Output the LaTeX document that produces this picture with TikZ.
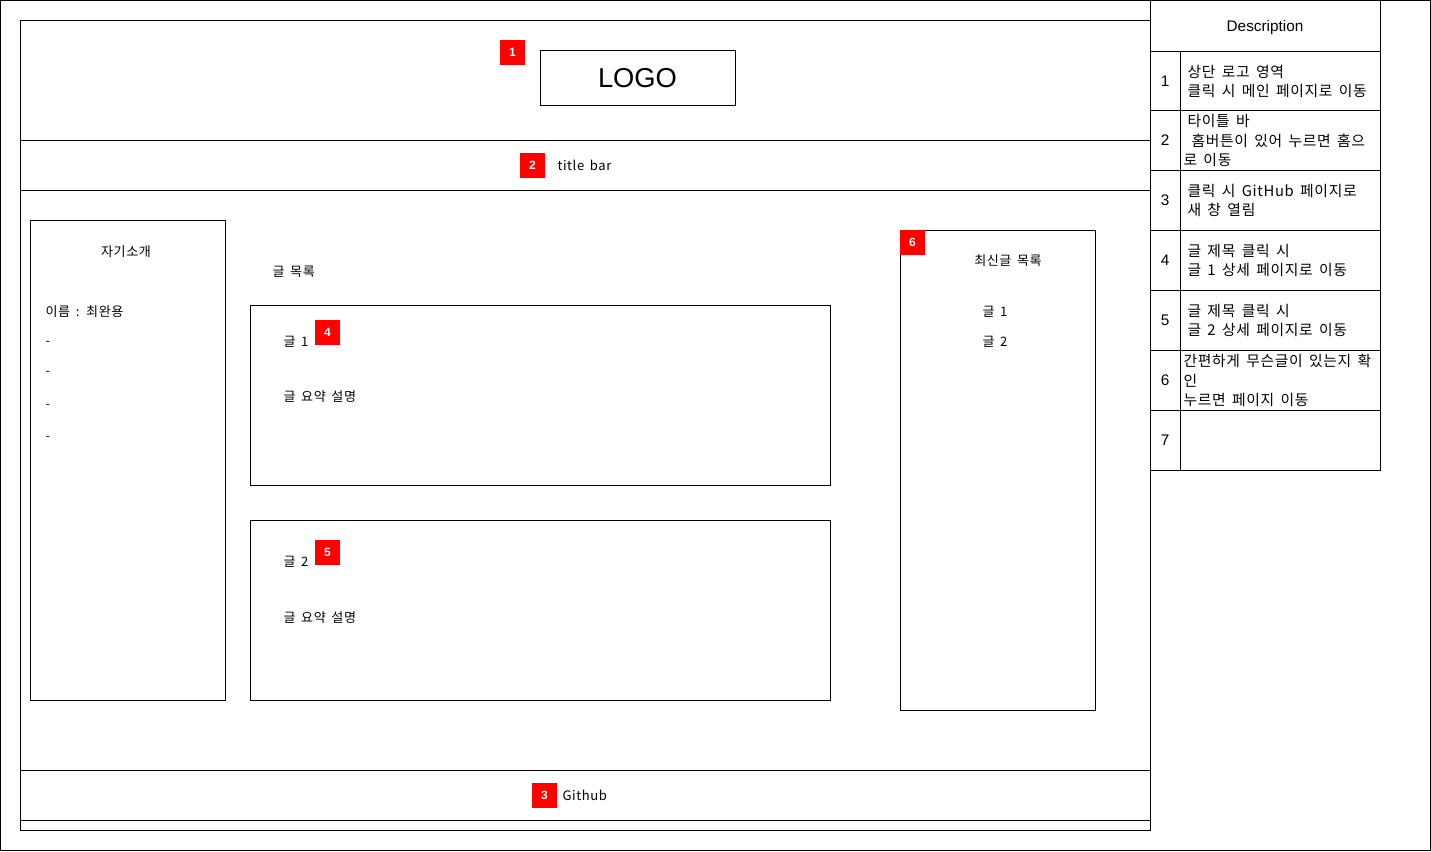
\documentclass[tikz,border=0pt]{standalone}
\usepackage{fontspec}
\setmainfont{Liberation Sans}
\newfontfamily\kr[LetterSpace=4.5,WordSpace=1.6]{Noto Sans CJK KR}
\begin{document}
\begin{tikzpicture}[x=0.75pt,y=-0.75pt,line width=0.75pt,
  frame/.style={draw=black,line width=0.75pt},
  badge/.style={fill=red,text=white,inner sep=0,minimum width=18.75pt,minimum height=18.75pt,font=\rmfamily\bfseries\fontsize{9}{9}\selectfont},
  lbl/.style={inner sep=0,font=\kr\fontsize{9.8}{12}\selectfont},
  cell/.style={inner sep=0,font=\kr\fontsize{11.1}{14.6}\selectfont,align=left},
  num/.style={inner sep=0,font=\rmfamily\fontsize{11.5}{12}\selectfont},
]
\useasboundingbox (0,0) rectangle (1431,851);
% outer frame
\draw[frame] (0.5,0.5) rectangle (1430,850);
% main frame
\draw[frame] (20,20) rectangle (1150,830);
\draw[frame] (20,140) -- (1150,140);
\draw[frame] (20,190) -- (1150,190);
\draw[frame] (20,770) -- (1150,770);
\draw[frame] (20,820) -- (1150,820);
% logo
\draw[frame] (540,50) rectangle (735,105);
\node[inner sep=0,font=\rmfamily\fontsize{20.5}{24}\selectfont] (logo) at (637.5,78.5) {LOGO};
\node[badge] (b1) at (512.5,52.5) {1};
% title bar
\node[badge] (b2) at (532.5,165.5) {2};
\node[lbl,anchor=west] (title) at (557,165.5) {title bar};
% left intro box
\draw[frame] (30,220) rectangle (225,700);
\node[lbl] (intro) at (126,251.5) {자기소개};
\node[lbl,anchor=west] (name) at (45,311.5) {이름 : 최완용};
\node[lbl,anchor=west] (d1) at (45,343.5) {-};
\node[lbl,anchor=west] (d2) at (45,373.5) {-};
\node[lbl,anchor=west] (d3) at (45,406.5) {-};
\node[lbl,anchor=west] (d4) at (45,438.5) {-};
% post list
\node[lbl,anchor=west] (list) at (272,271.5) {글 목록};
\draw[frame] (250,305) rectangle (830,485);
\node[lbl,anchor=west] (p1) at (283,341.5) {글 1};
\node[badge] (b4) at (327.5,332.5) {4};
\node[lbl,anchor=west] (s1) at (283,396.5) {글 요약 설명};
\draw[frame] (250,520) rectangle (830,700);
\node[lbl,anchor=west] (p2) at (283,561.5) {글 2};
\node[badge] (b5) at (327.5,552.5) {5};
\node[lbl,anchor=west] (s2) at (283,617.5) {글 요약 설명};
% recent box
\draw[frame] (900,230) rectangle (1095,710);
\node[badge] (b6) at (912.5,242.5) {6};
\node[lbl] (recent) at (1008,260.5) {최신글 목록};
\node[lbl] (r1) at (995,311.5) {글 1};
\node[lbl] (r2) at (995,341.5) {글 2};
% footer
\node[badge] (b3) at (544.5,795.5) {3};
\node[lbl,anchor=west] (gh) at (562,795.5) {Github};
% description table
\draw[frame] (1150,0.5) rectangle (1380,470);
\draw[frame] (1150,51) -- (1380,51);
\foreach \yy in {110,170,230,290,350,410} \draw[frame] (1150,\yy) -- (1380,\yy);
\draw[frame] (1180,51) -- (1180,470);
\node[num] (desc) at (1265,27.5) {Description};
\node[num] (n1) at (1165,81.5) {1};
\node[num] (n2) at (1165,140.5) {2};
\node[num] (n3) at (1165,200.5) {3};
\node[num] (n4) at (1165,260.5) {4};
\node[num] (n5) at (1165,320.5) {5};
\node[num] (n6) at (1165,380.5) {6};
\node[num] (n7) at (1165,440.5) {7};
\node[cell,anchor=west] (t1) at (1187,81.5) {상단 로고 영역\\클릭 시 메인 페이지로 이동};
\node[cell,anchor=west] (t2) at (1183,140.5) {\hspace{3pt}타이틀 바\\\hspace{6pt}홈버튼이 있어 누르면 홈으\\로 이동};
\node[cell,anchor=west] (t3) at (1187,200.5) {클릭 시 GitHub 페이지로\\새 창 열림};
\node[cell,anchor=west] (t4) at (1187,260.5) {글 제목 클릭 시\\글 1 상세 페이지로 이동};
\node[cell,anchor=west] (t5) at (1187,320.5) {글 제목 클릭 시\\글 2 상세 페이지로 이동};
\node[cell,anchor=west] (t6) at (1183,380.5) {간편하게 무슨글이 있는지 확\\인\\누르면 페이지 이동};
\end{tikzpicture}
\end{document}
